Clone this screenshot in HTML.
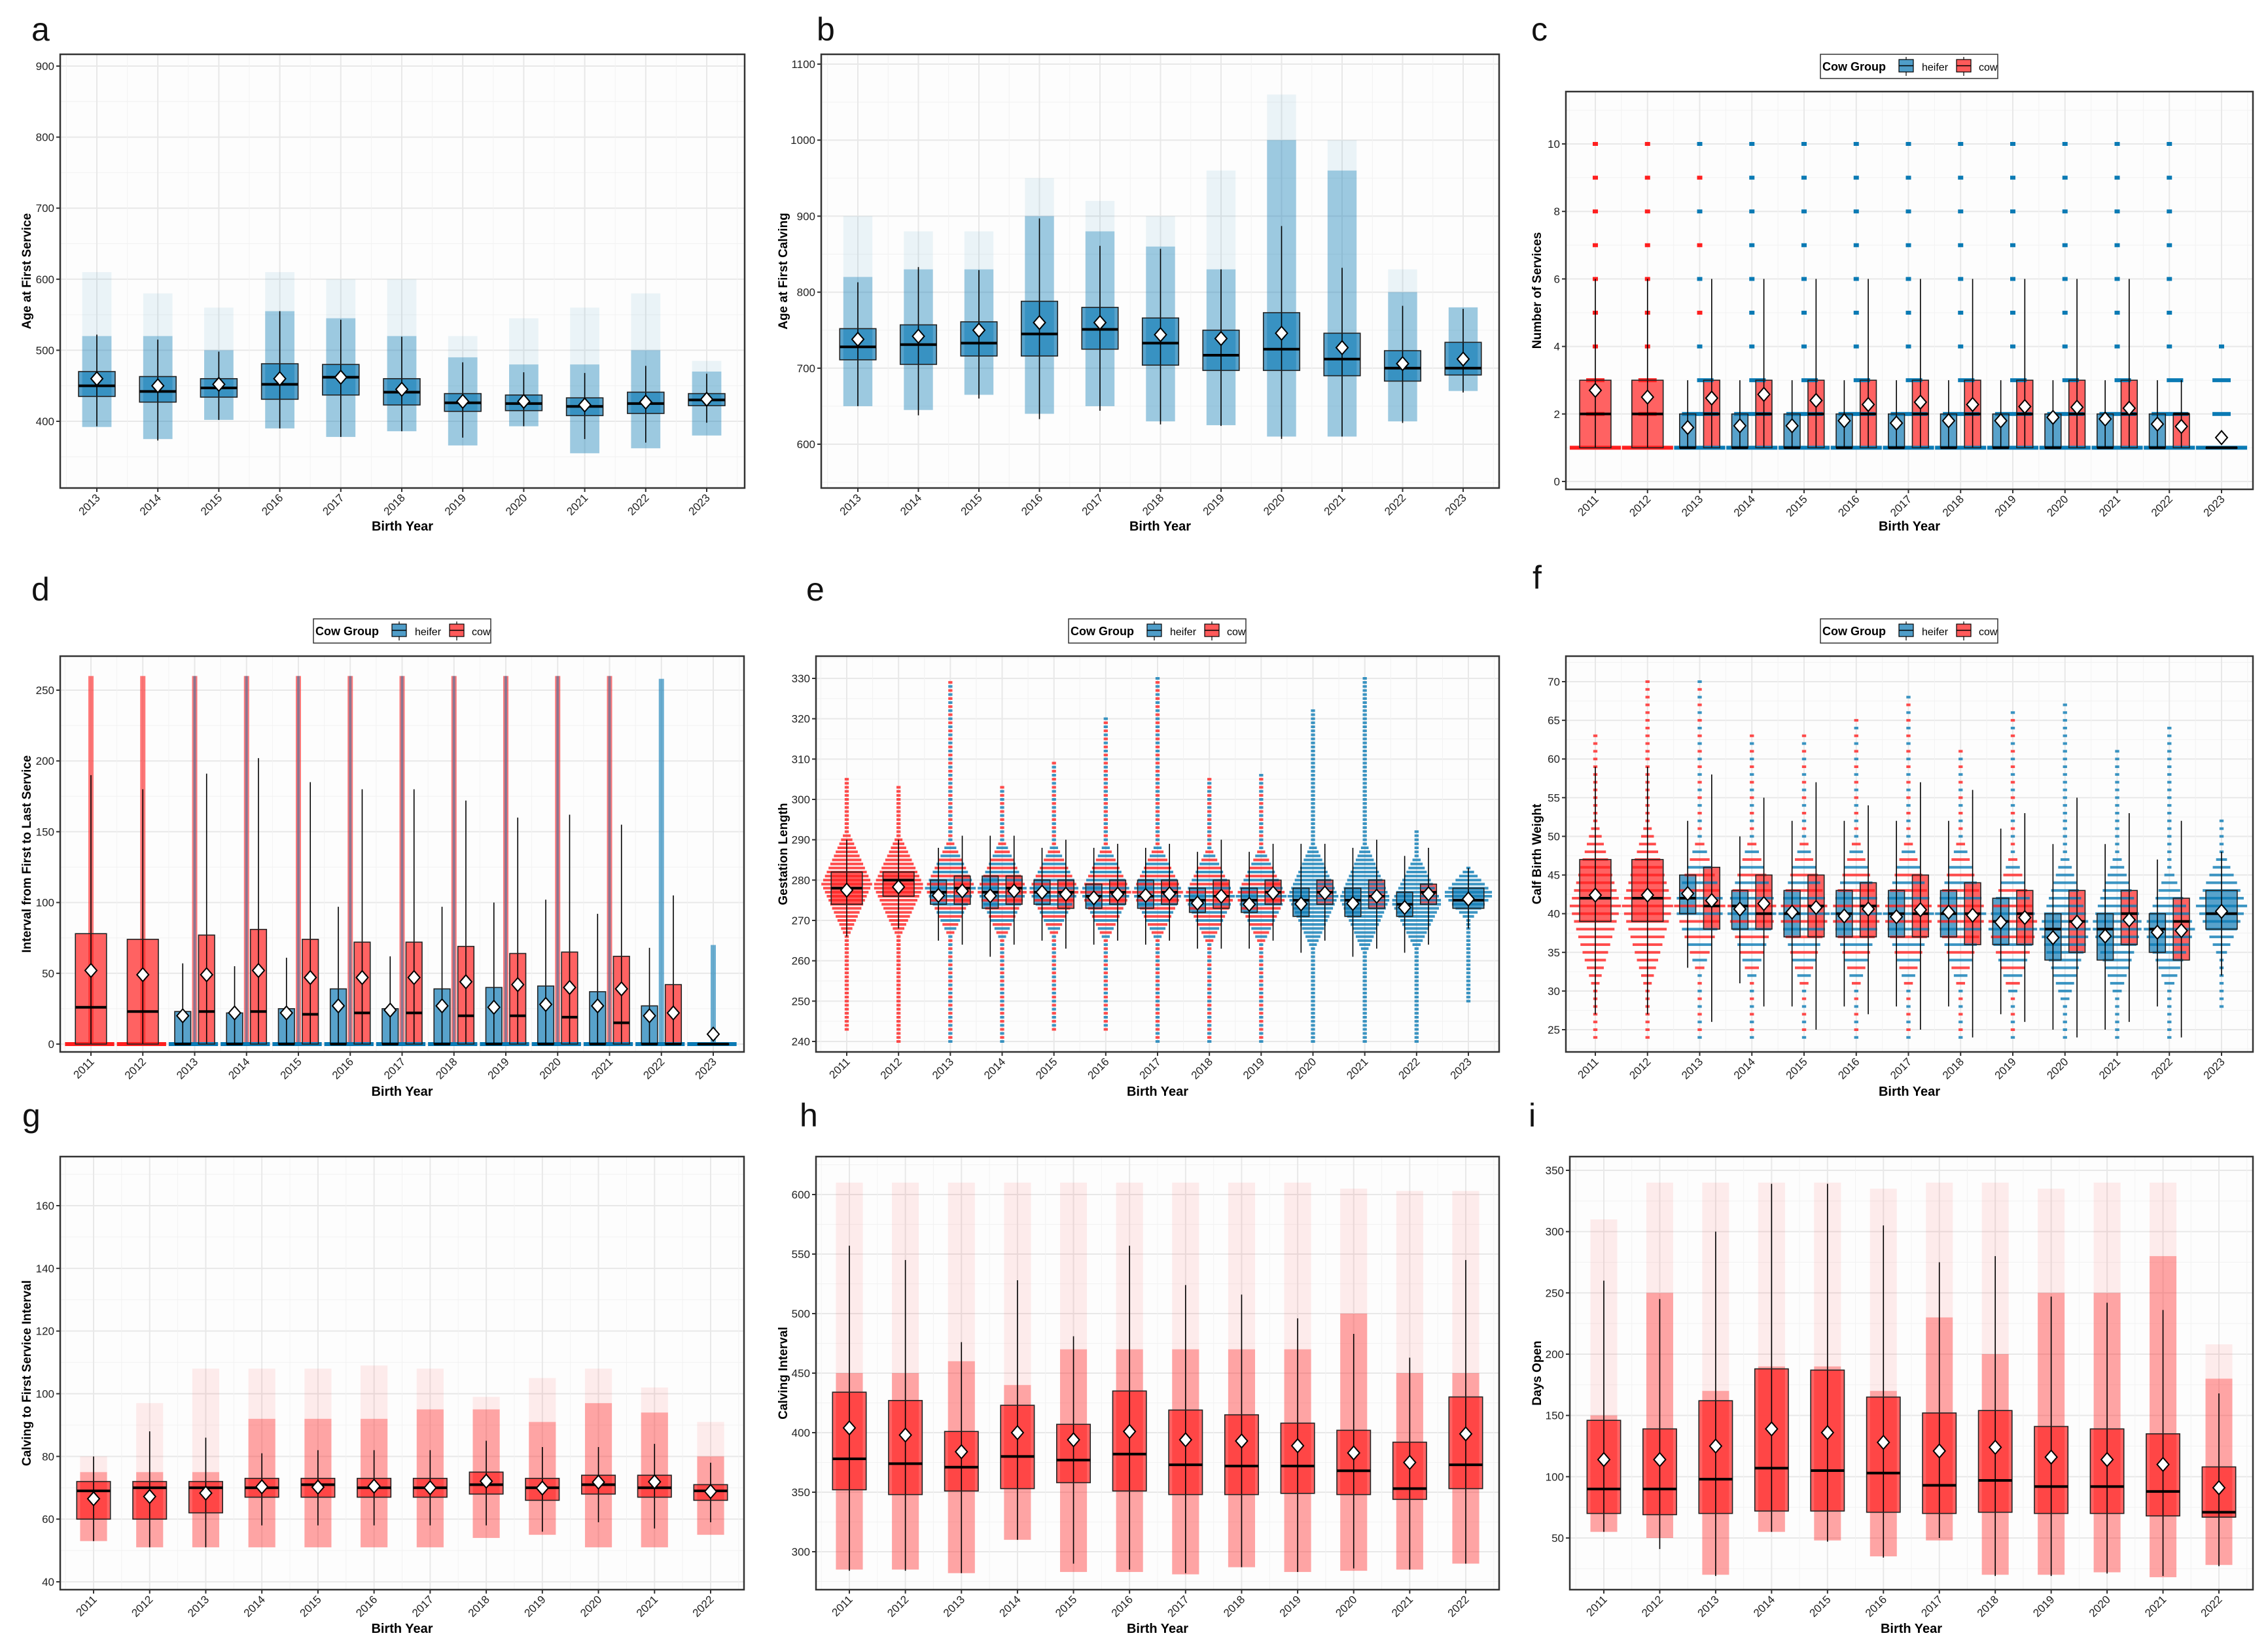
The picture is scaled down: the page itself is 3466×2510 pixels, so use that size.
<!DOCTYPE html>
<html><head><meta charset="utf-8"><style>
html,body{margin:0;padding:0;background:#fff;}
svg{display:block;font-family:"Liberation Sans",sans-serif;}
</style></head><body>
<svg id="fig" width="3466" height="2510" viewBox="0 0 3466 2510" xmlns="http://www.w3.org/2000/svg"></svg>
<script>
// ---------- DATA ----------
const aCats=['2013','2014','2015','2016','2017','2018','2019','2020','2021','2022','2023'];
const aQ1=[435,427,434,431,437,423,414,415,408,411,422];
const aMed=[450,442,447,452,462,441,426,425,421,425,430];
const aQ3=[470,463,460,481,480,460,439,437,433,441,439];
const aWlo=[393,373,402,390,378,386,377,393,375,370,398];
const aWhi=[522,515,498,555,543,519,483,469,468,478,467];
const aMean=[460,450,452,460,462,445,428,428,423,427,431];
const aCLo=[392,375,402,390,378,386,366,393,355,362,380];
const aDHi=[520,520,500,555,545,520,490,480,480,500,470];
const aCHi=[610,580,560,610,600,600,520,545,560,580,485];
const aTicks=[400,500,600,700,800,900];

const bCats=aCats;
const bQ1=[711,705,716,716,725,704,697,697,690,683,691];
const bMed=[728,731,733,745,751,733,717,725,712,700,700];
const bQ3=[752,757,761,788,780,766,750,773,746,723,734];
const bWlo=[650,638,660,633,644,626,624,607,610,628,668];
const bWhi=[813,833,829,897,861,857,830,887,832,782,778];
const bMean=[738,742,750,760,760,744,739,746,727,706,712];
const bCLo=[650,645,665,640,650,630,625,610,610,630,670];
const bDHi=[820,830,830,900,880,860,830,1000,960,800,780];
const bCHi=[900,880,880,950,920,900,960,1060,1000,830,780];
const bTicks=[600,700,800,900,1000,1100];

const gCats13=['2011','2012','2013','2014','2015','2016','2017','2018','2019','2020','2021','2022','2023'];
const cHQ1=[null,null,1,1,1,1,1,1,1,1,1,1,1];
const cHMed=[null,null,1,1,1,1,1,1,1,1,1,1,1];
const cHQ3=[null,null,2,2,2,2,2,2,2,2,2,2,1];
const cHWlo=[null,null,1,1,1,1,1,1,1,1,1,1,1];
const cHWhi=[null,null,3,3,3,3,3,3,3,3,3,3,1];
const cHMean=[null,null,1.6,1.65,1.65,1.8,1.73,1.8,1.8,1.9,1.85,1.7,1.3];
const cCQ1=[1,1,1,1,1,1,1,1,1,1,1,1,null];
const cCMed=[2,2,2,2,2,2,2,2,2,2,2,2,null];
const cCQ3=[3,3,3,3,3,3,3,3,3,3,3,2,null];
const cCWlo=[1,1,1,1,1,1,1,1,1,1,1,1,null];
const cCWhi=[6,6,6,6,6,6,6,6,6,6,6,3,null];
const cCMean=[2.7,2.5,2.47,2.58,2.4,2.28,2.35,2.28,2.22,2.2,2.17,1.63,null];
const cMax=[10,10,10,10,10,10,10,10,10,10,10,10,4];
const cCol=['r','r','m','b','b','b','b','b','b','b','b','b','b'];
const cTicks=[0,2,4,6,8,10];

const dHQ1=[null,null,0,0,0,0,0,0,0,0,0,0,0];
const dHMed=[null,null,0,0,0,0,0,0,0,0,0,0,0];
const dHQ3=[null,null,23,22,25,39,25,39,40,41,37,27,0];
const dHWlo=[null,null,0,0,0,0,0,0,0,0,0,0,0];
const dHWhi=[null,null,57,55,61,97,62,97,100,102,92,68,0];
const dHMean=[null,null,20,22,22,27,24,27,26,28,27,20,7];
const dCQ1=[0,0,0,0,0,0,0,0,0,0,0,0,null];
const dCMed=[26,23,23,23,21,22,22,20,20,19,15,0,null];
const dCQ3=[78,74,77,81,74,72,72,69,64,65,62,42,null];
const dCWlo=[0,0,0,0,0,0,0,0,0,0,0,0,null];
const dCWhi=[190,180,191,202,185,180,180,172,160,162,155,105,null];
const dCMean=[52,49,49,52,47,47,47,44,42,40,39,22,null];
const dCHi=[260,260,260,260,260,260,260,260,260,260,260,258,70];
const dCol=['r','r','m','m','m','m','m','m','m','m','m','b','b'];
const dTicks=[0,50,100,150,200,250];

const eHQ1=[null,null,274,273,274,273,273,272,272,271,271,271,273];
const eHMed=[null,null,277,277,277,276,276,275,275,275,275,274,275];
const eHQ3=[null,null,280,281,280,279,280,278,278,278,278,277,278];
const eHWlo=[null,null,265,261,265,264,264,263,263,262,261,262,268];
const eHWhi=[null,null,288,291,288,288,288,287,287,289,288,286,283];
const eHMean=[null,null,276.2,276.1,277,275.6,276.2,274.3,274,274.1,274.2,273.2,275.3];
const eCQ1=[274,276,274,274,273,274,274,273,274,274,273,274,null];
const eCMed=[278,280,278,278,277,277,277,276,277,277,276,277,null];
const eCQ3=[282,282,281,281,280,280,280,280,280,280,280,279,null];
const eCWlo=[266,268,264,264,263,265,265,263,265,265,263,264,null];
const eCWhi=[290,290,291,291,290,289,289,290,289,289,290,288,null];
const eCMean=[277.5,278.3,277.3,277.3,276.5,276.5,276.6,276,276.8,276.8,276,276.6,null];
const eCLo=[243,240,240,240,243,243,240,240,240,240,240,240,250];
const eCHi=[305,303,329,303,309,320,330,305,306,322,330,292,283];
const eDLo=[266,266,266,265,266,265,265,264,264,263,262,263,270];
const eDHi=[292,291,290,290,289,289,289,288,288,289,289,286,283];
const eCol=['r','r','m','m','m','m','m','m','m','b','b','b','b'];
const eTicks=[240,250,260,270,280,290,300,310,320,330];

const fHQ1=[null,null,40,38,37,37,37,37,36,34,34,35,38];
const fHMed=[null,null,42,41,40,40,40,40,39,38,38,38,40];
const fHQ3=[null,null,45,43,43,43,43,43,42,40,40,40,43];
const fHWlo=[null,null,33,31,28,28,28,28,27,25,25,28,32];
const fHWhi=[null,null,52,50,52,52,52,52,51,49,49,47,48];
const fHMean=[null,null,42.6,40.6,40.2,39.7,39.6,40.2,38.9,36.9,37.1,37.6,40.3];
const fCQ1=[39,39,38,38,37,37,37,36,36,35,36,34,null];
const fCMed=[42,42,41,40,41,41,40,40,40,39,40,39,null];
const fCQ3=[47,47,46,45,45,44,45,44,43,43,43,42,null];
const fCWlo=[27,27,26,28,25,27,25,24,26,24,26,24,null];
const fCWhi=[59,59,58,55,57,54,57,56,53,55,53,52,null];
const fCMean=[42.4,42.4,41.7,41.3,40.8,40.6,40.5,39.8,39.5,38.9,39.2,37.8,null];
const fCLo=[24,24,24,24,24,24,24,24,24,24,24,24,28];
const fCHi=[63,70,70,63,63,65,68,61,66,67,61,64,52];
const fDLo=[30,30,32,31,30,30,30,30,29,28,29,30,34];
const fDHi=[52,52,50,50,50,50,50,50,48,48,48,46,48];
const fCol=['r','r','m','m','m','m','m','m','m','b','b','b','b'];
const fTicks=[25,30,35,40,45,50,55,60,65,70];

const gCats=['2011','2012','2013','2014','2015','2016','2017','2018','2019','2020','2021','2022'];
const gQ1=[60,60,62,67,67,67,67,68,66,68,67,66];
const gMed=[69,70,70,70,71,70,70,71,70,71,70,69];
const gQ3=[72,72,72,73,73,73,73,75,73,74,74,71];
const gWlo=[53,51,51,58,58,58,58,58,56,59,57,59];
const gWhi=[80,88,86,81,82,82,82,85,83,83,84,78];
const gMean=[66.5,67.2,68.3,70.3,70.2,70.5,70,72.1,69.9,71.8,71.9,68.8];
const gCLo=[53,51,51,51,51,51,51,54,55,51,51,55];
const gDHi=[75,75,75,92,92,92,95,95,91,97,94,80];
const gCHi=[80,97,108,108,108,109,108,99,105,108,102,91];
const gTicks=[40,60,80,100,120,140,160];

const hQ1=[352,348,351,353,358,351,348,348,349,348,344,353];
const hMed=[378,374,371,380,377,382,373,372,372,368,353,373];
const hQ3=[434,427,401,423,407,435,419,415,408,402,392,430];
const hWlo=[284,284,282,310,290,285,282,287,283,286,285,290];
const hWhi=[557,545,476,528,481,557,524,516,496,483,463,545];
const hMean=[404,398,384,400,394,401,394,393,389,383,375,399];
const hCLo=[285,285,282,310,283,283,281,287,283,284,285,290];
const hDHi=[450,450,460,440,470,470,470,470,470,500,450,450];
const hCHi=[610,610,610,610,610,610,610,610,610,605,603,603];
const hTicks=[300,350,400,450,500,550,600];

const iQ1=[70,69,70,72,72,71,70,71,70,70,68,67];
const iMed=[90,90,98,107,105,103,93,97,92,92,88,71];
const iQ3=[146,139,162,188,187,165,152,154,141,139,135,108];
const iWlo=[55,41,19,55,47,34,50,19,19,21,19,27];
const iWhi=[260,245,300,339,339,305,275,280,247,242,236,168];
const iMean=[114,114,125,139,136,128,121,124,116,114,110,91];
const iCLo=[55,50,20,55,48,35,48,20,20,22,18,28];
const iDHi=[150,250,170,190,190,170,230,200,250,250,280,180];
const iCHi=[310,340,340,340,340,335,340,340,335,340,340,208];
const iTicks=[50,100,150,200,250,300,350];

// ---------- STYLE ----------
const BLUE_PT='#0a7ab4', BLUE_FILL='#4f9dc8', RED_PT='#ff1f1f', RED_FILL='#ff5a5a';
const NS='http://www.w3.org/2000/svg';
const fig=document.getElementById('fig');
function mk(tag,attrs,parent){const e=document.createElementNS(NS,tag);for(const k in attrs)e.setAttribute(k,attrs[k]);parent.appendChild(e);return e;}
function colOf(c,k){if(c==='r')return RED_PT;if(c==='b')return BLUE_PT;return (k%2===0)?BLUE_PT:RED_PT;}

const panels=[
 {id:'a',letter:'a',lx:48,ly:62,L:92,R:1138,T:83,B:746,v0:400,p0:644,v1:900,p1:101,cx0:148,cx1:1080,cats:aCats,ticks:aTicks,ytitle:'Age at First Service',ytx:40,xty:804,cloud:'jitter',
  series:[{fill:BLUE_FILL,pt:BLUE_PT,q1:aQ1,med:aMed,q3:aQ3,wlo:aWlo,whi:aWhi,mean:aMean,cLo:aCLo,dHi:aDHi,cHi:aCHi}]},
 {id:'b',letter:'b',lx:1248,ly:62,L:1255,R:2291,T:83,B:746,v0:600,p0:679,v1:1100,p1:98,cx0:1311,cx1:2236,cats:bCats,ticks:bTicks,ytitle:'Age at First Calving',ytx:1196,xty:804,cloud:'jitter',
  series:[{fill:BLUE_FILL,pt:BLUE_PT,q1:bQ1,med:bMed,q3:bQ3,wlo:bWlo,whi:bWhi,mean:bMean,cLo:bCLo,dHi:bDHi,cHi:bCHi}]},
 {id:'c',letter:'c',lx:2340,ly:62,L:2393,R:3443,T:140,B:748,v0:0,p0:736,v1:10,p1:220,cx0:2438,cx1:3395,cats:gCats13,ticks:cTicks,ytitle:'Number of Services',ytx:2348,xty:804,cloud:'levels',legend:[2782,83],
  cMax:cMax,cCol:cCol,
  series:[{fill:BLUE_FILL,pt:BLUE_PT,q1:cHQ1,med:cHMed,q3:cHQ3,wlo:cHWlo,whi:cHWhi,mean:cHMean},{fill:RED_FILL,pt:RED_PT,q1:cCQ1,med:cCMed,q3:cCQ3,wlo:cCWlo,whi:cCWhi,mean:cCMean}]},
 {id:'d',letter:'d',lx:48,ly:918,L:92,R:1137,T:1003,B:1608,v0:0,p0:1596,v1:250,p1:1055,cx0:139,cx1:1090,cats:gCats13,ticks:dTicks,ytitle:'Interval from First to Last Service',ytx:40,xty:1668,cloud:'column',legend:[479,946],
  cHi:dCHi,cCol:dCol,
  series:[{fill:BLUE_FILL,pt:BLUE_PT,q1:dHQ1,med:dHMed,q3:dHQ3,wlo:dHWlo,whi:dHWhi,mean:dHMean},{fill:RED_FILL,pt:RED_PT,q1:dCQ1,med:dCMed,q3:dCQ3,wlo:dCWlo,whi:dCWhi,mean:dCMean}]},
 {id:'e',letter:'e',lx:1232,ly:918,L:1247,R:2291,T:1003,B:1608,v0:240,p0:1592,v1:330,p1:1037,cx0:1294,cx1:2244,cats:gCats13,ticks:eTicks,ytitle:'Gestation Length',ytx:1196,xty:1668,cloud:'stripes',legend:[1633,946],
  cLo:eCLo,cHi:eCHi,dLo:eDLo,dHi:eDHi,cCol:eCol,
  series:[{fill:BLUE_FILL,pt:BLUE_PT,q1:eHQ1,med:eHMed,q3:eHQ3,wlo:eHWlo,whi:eHWhi,mean:eHMean},{fill:RED_FILL,pt:RED_PT,q1:eCQ1,med:eCMed,q3:eCQ3,wlo:eCWlo,whi:eCWhi,mean:eCMean}]},
 {id:'f',letter:'f',lx:2342,ly:900,L:2393,R:3443,T:1003,B:1608,v0:25,p0:1574,v1:70,p1:1042,cx0:2438,cx1:3395,cats:gCats13,ticks:fTicks,ytitle:'Calf Birth Weight',ytx:2348,xty:1668,cloud:'stripes',legend:[2782,946],
  cLo:fCLo,cHi:fCHi,dLo:fDLo,dHi:fDHi,cCol:fCol,
  series:[{fill:BLUE_FILL,pt:BLUE_PT,q1:fHQ1,med:fHMed,q3:fHQ3,wlo:fHWlo,whi:fHWhi,mean:fHMean},{fill:RED_FILL,pt:RED_PT,q1:fCQ1,med:fCMed,q3:fCQ3,wlo:fCWlo,whi:fCWhi,mean:fCMean}]},
 {id:'g',letter:'g',lx:34,ly:1722,L:92,R:1137,T:1768,B:2430,v0:40,p0:2418,v1:160,p1:1843,cx0:143,cx1:1086,cats:gCats,ticks:gTicks,ytitle:'Calving to First Service Interval',ytx:40,xty:2489,cloud:'jitter',
  series:[{fill:RED_FILL,pt:RED_PT,q1:gQ1,med:gMed,q3:gQ3,wlo:gWlo,whi:gWhi,mean:gMean,cLo:gCLo,dHi:gDHi,cHi:gCHi}]},
 {id:'h',letter:'h',lx:1222,ly:1722,L:1247,R:2291,T:1768,B:2430,v0:300,p0:2372,v1:600,p1:1826,cx0:1298,cx1:2240,cats:gCats,ticks:hTicks,ytitle:'Calving Interval',ytx:1196,xty:2489,cloud:'jitter',
  series:[{fill:RED_FILL,pt:RED_PT,q1:hQ1,med:hMed,q3:hQ3,wlo:hWlo,whi:hWhi,mean:hMean,cLo:hCLo,dHi:hDHi,cHi:hCHi}]},
 {id:'i',letter:'i',lx:2336,ly:1722,L:2399,R:3443,T:1768,B:2430,v0:50,p0:2351,v1:350,p1:1789,cx0:2451,cx1:3391,cats:gCats,ticks:iTicks,ytitle:'Days Open',ytx:2348,xty:2489,cloud:'jitter',
  series:[{fill:RED_FILL,pt:RED_PT,q1:iQ1,med:iMed,q3:iQ3,wlo:iWlo,whi:iWhi,mean:iMean,cLo:iCLo,dHi:iDHi,cHi:iCHi}]}
];

function drawLegend(p,g){
  const [x,y]=p.legend;
  const lg=mk('g',{},g);
  
  
  mk('rect',{x:x,y:y,width:271,height:37,fill:'#fff',stroke:'#333','stroke-width':1.5},lg);
  const t=mk('text',{x:x+3,y:y+25,'font-size':18,'font-weight':'bold',fill:'#000'},lg);t.textContent='Cow Group';
  const keys=[['heifer',BLUE_FILL,x+120,x+155],['cow',RED_FILL,x+208,x+242]];
  keys.forEach(k=>{
    const kg=mk('g',{},lg);
    
    
    mk('line',{x1:k[2]+11,x2:k[2]+11,y1:y+4,y2:y+33,stroke:'#000','stroke-width':1.2},kg);
    mk('rect',{x:k[2],y:y+8,width:22,height:19,fill:k[1],stroke:'#000','stroke-width':1.2},kg);
    mk('line',{x1:k[2],x2:k[2]+22,y1:y+17.5,y2:y+17.5,stroke:'#000','stroke-width':1.5},kg);
    const tt=mk('text',{x:k[3],y:y+25,'font-size':16,fill:'#000'},kg);tt.textContent=k[0];
  });
}

function drawPanel(p){
  const g=mk('g',{},fig);
  
  
  const yS=v=>p.p0+(v-p.v0)*(p.p1-p.p0)/(p.v1-p.v0);
  const n=p.cats.length, sp=(p.cx1-p.cx0)/(n-1), xS=i=>p.cx0+i*sp;
  const lt=mk('text',{x:p.lx,y:p.ly,'font-size':50,fill:'#111'},g);
  
  
  lt.textContent=p.letter;
  if(p.legend)drawLegend(p,g);
  const bg=mk('rect',{x:p.L,y:p.T,width:p.R-p.L,height:p.B-p.T,fill:'#fdfdfd'},g);
  
  
  const cl=mk('clipPath',{id:'clip'+p.id},g);
  mk('rect',{x:p.L,y:p.T,width:p.R-p.L,height:p.B-p.T},cl);
  const grid=mk('g',{'clip-path':'url(#clip'+p.id+')'},g);
  
  
  const tstep=p.ticks[1]-p.ticks[0];
  for(let k=-1;k<p.ticks.length;k++){
    const v=p.ticks[0]+(k+0.5)*tstep, yy=yS(v);
    mk('line',{x1:p.L,x2:p.R,y1:yy,y2:yy,stroke:'#f2f2f2','stroke-width':1},grid);
  }
  p.ticks.forEach(v=>{const yy=yS(v);mk('line',{x1:p.L,x2:p.R,y1:yy,y2:yy,stroke:'#e8e8e8','stroke-width':2},grid);});
  for(let i=-1;i<n;i++){const xx=xS(i)+sp/2;mk('line',{x1:xx,x2:xx,y1:p.T,y2:p.B,stroke:'#f2f2f2','stroke-width':1},grid);}
  for(let i=0;i<n;i++){const xx=xS(i);mk('line',{x1:xx,x2:xx,y1:p.T,y2:p.B,stroke:'#e8e8e8','stroke-width':2},grid);}
  const data=mk('g',{'clip-path':'url(#clip'+p.id+')'},g);
  
  
  for(let i=0;i<n;i++){
    const cx=xS(i);
    const present=p.series.filter(s=>s.q1[i]!==null);
    const two=present.length===2;
    const w=two?0.31*sp:0.6*sp;
    const layout=present.map((s,j)=>({s:s,x:two?(j===0?cx-0.23*sp:cx+0.23*sp):cx}));
    layout.forEach(o=>{
      const s=o.s;
      const r=mk('rect',{x:o.x-w/2,y:yS(s.q3[i]),width:w,height:Math.max(1,yS(s.q1[i])-yS(s.q3[i])),fill:s.fill,'fill-opacity':0.95},data);
      
      
    });
    if(p.cloud==='jitter'){
      layout.forEach(o=>{
        const s=o.s, cw=w*0.8;
        const c1=mk('rect',{x:o.x-cw/2,y:yS(s.cHi[i]),width:cw,height:yS(s.dHi[i])-yS(s.cHi[i]),fill:s.pt,'fill-opacity':0.08},data);
        
        
        const c2=mk('rect',{x:o.x-cw/2,y:yS(s.dHi[i]),width:cw,height:yS(s.cLo[i])-yS(s.dHi[i]),fill:s.pt,'fill-opacity':0.4},data);
        
        
      });
    } else if(p.cloud==='column'){
      const c=mk('rect',{x:cx-4,y:yS(p.cHi[i]),width:8,height:yS(0)-yS(p.cHi[i]),fill:colOf(p.cCol[i],i===11||i===12?0:1),'fill-opacity':0.6},data);
      
      
      if(p.cCol[i]==='m'){
        const c3=mk('rect',{x:cx-2,y:yS(p.cHi[i]),width:4,height:yS(0)-yS(p.cHi[i]),fill:BLUE_PT,'fill-opacity':0.45},data);
        
        
      }
      const bl=mk('rect',{x:cx-0.5*sp,y:yS(0)-3,width:sp*0.95,height:6,fill:p.cCol[i]==='r'?RED_PT:BLUE_PT},data);
      
      
    } else if(p.cloud==='levels'){
      for(let k=1;k<=p.cMax[i];k++){
        const col=p.cCol[i]==='r'?RED_PT:(p.cCol[i]==='m'&&k>3&&k%2?RED_PT:BLUE_PT);
        const ww=k===1?0.98*sp:(k<=3?(two?0.7*sp:0.35*sp):8);
        const xx=k===2&&two?cx-0.34*sp:(k===3&&two?cx-0.05*sp:cx-ww/2);
        const lv=mk('rect',{x:k<=3?xx:cx-4,y:yS(k)-3,width:ww*(k===3&&two?0.45:1),height:6,fill:col},data);
        
        
      }
    } else if(p.cloud==='stripes'){
      const mid=(p.dLo[i]+p.dHi[i])/2, half=(p.dHi[i]-p.dLo[i])/2;
      for(let v=p.cLo[i];v<=p.cHi[i];v++){
        const t=Math.max(0,1-Math.abs(v-mid)/half);
        const ww=0.08*sp+0.9*sp*t;
        const st=mk('rect',{x:cx-ww/2,y:yS(v)-2,width:ww,height:4,fill:colOf(p.cCol[i],v),'fill-opacity':0.8},data);
        
        
      }
    }
    layout.forEach(o=>{
      const s=o.s;
      const wl=mk('line',{x1:o.x,x2:o.x,y1:yS(s.whi[i]),y2:yS(s.wlo[i]),stroke:'#000','stroke-width':1.6},data);
      
      
      const ol=mk('rect',{x:o.x-w/2,y:yS(s.q3[i]),width:w,height:Math.max(0.5,yS(s.q1[i])-yS(s.q3[i])),fill:'none',stroke:'#222','stroke-width':1.6},data);
      
      
      const md=mk('line',{x1:o.x-w/2,x2:o.x+w/2,y1:yS(s.med[i]),y2:yS(s.med[i]),stroke:'#000','stroke-width':4},data);
      
      
      const my=yS(s.mean[i]), d=9;
      const mn=mk('polygon',{points:`${o.x},${my-d*1.15} ${o.x+d},${my} ${o.x},${my+d*1.15} ${o.x-d},${my}`,fill:'#fff',stroke:'#000','stroke-width':2},data);
      
      
    });
  }
  const bd=mk('rect',{x:p.L,y:p.T,width:p.R-p.L,height:p.B-p.T,fill:'none',stroke:'#333','stroke-width':2.5},g);
  
  
  const ya=mk('g',{},g);
  
  
  p.ticks.forEach(v=>{
    const yy=yS(v);
    mk('line',{x1:p.L-6,x2:p.L,y1:yy,y2:yy,stroke:'#333','stroke-width':2},ya);
    const t=mk('text',{x:p.L-9,y:yy+6,'font-size':17,'text-anchor':'end',fill:'#222'},ya);
    
    
    t.textContent=v;
  });
  const xa=mk('g',{},g);
  
  
  for(let i=0;i<n;i++){
    const xx=xS(i);
    mk('line',{x1:xx,x2:xx,y1:p.B,y2:p.B+6,stroke:'#333','stroke-width':2},xa);
    const t=mk('text',{x:xx+6,y:p.B+16,'font-size':17,'text-anchor':'end',fill:'#222',transform:`rotate(-45 ${xx+6} ${p.B+16})`},xa);
    
    
    t.textContent=p.cats[i];
  }
  const xt=mk('text',{x:(p.L+p.R)/2,y:p.xty+7,'font-size':20,'font-weight':'bold','text-anchor':'middle',fill:'#000'},g);
  
  
  xt.textContent='Birth Year';
  const cy=(p.T+p.B)/2;
  const yt=mk('text',{x:p.ytx+7,y:cy,'font-size':19,'font-weight':'bold','text-anchor':'middle',fill:'#000',transform:`rotate(-90 ${p.ytx+7} ${cy})`},g);
  
  
  yt.textContent=p.ytitle;
}
panels.forEach(drawPanel);
</script>
</body></html>
